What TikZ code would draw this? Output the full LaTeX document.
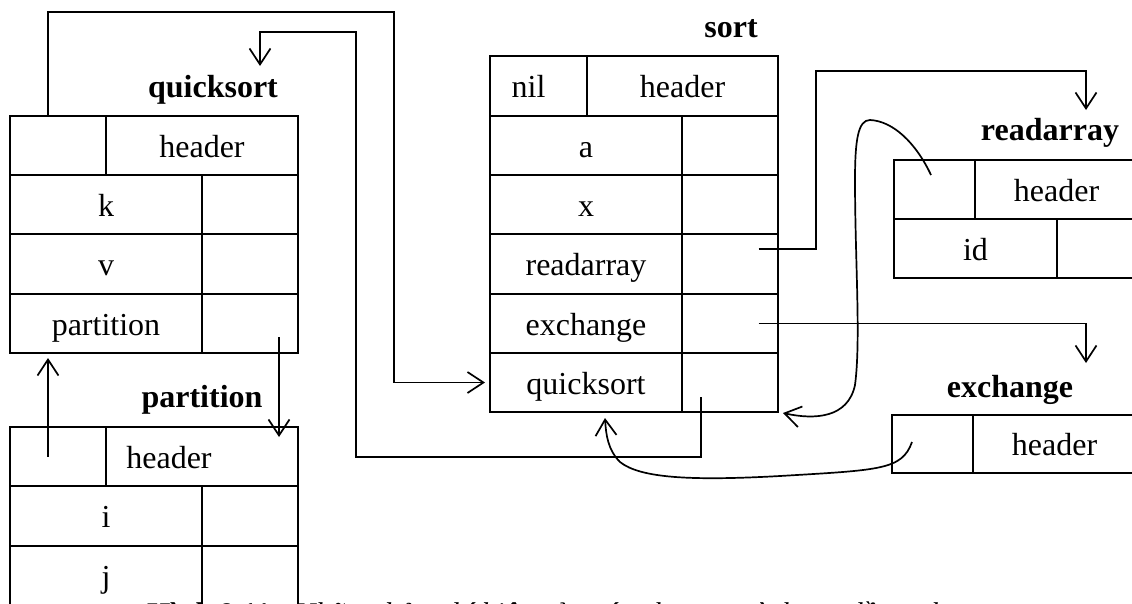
\documentclass[tikz,border=0pt]{standalone}
\usepackage{fontspec}
\setmainfont{Liberation Serif}
\usetikzlibrary{arrows.meta,calc}

% one table cell: name, x1, y1, x2, y2, text
\newcommand\mkcell[6]{%
  \node[cellbox, minimum width={(#4)-(#2)}, minimum height={(#5)-(#3)}]
    (#1) at ({((#2)+(#4))/2},{((#3)+(#5))/2}) {#6};}

\begin{document}
\begin{tikzpicture}[x=1pt,y=-1pt,
  cellbox/.style={draw, line width=1.7pt, inner sep=0pt, outer sep=0pt,
    font=\fontsize{32}{38}\selectfont, text height=23pt, text depth=0pt},
  tname/.style={anchor=base, inner sep=0pt, font=\fontsize{32}{38}\selectfont\bfseries},
  conn/.style={line width=1.7pt},
  arr/.style={conn, -{Straight Barb[length=16pt,width=21pt]}}]

\fill[white] (0,0) rectangle (1132,603);
\useasboundingbox (0,0) rectangle (1132,603);
\clip (0,0) rectangle (1132,603);

% ---- quicksort ----
\mkcell{qH1}{10}{116}{106}{175}{}
\mkcell{qH2}{106}{116}{298}{175}{header}
\mkcell{qK}{10}{175}{202}{234}{k}
\mkcell{qKv}{202}{175}{298}{234}{}
\mkcell{qV}{10}{234}{202}{294}{v}
\mkcell{qVv}{202}{234}{298}{294}{}
\mkcell{qP}{10}{294}{202}{353}{partition}
\mkcell{qPv}{202}{294}{298}{353}{}
\node[tname] (lQuick) at (213,97) {quicksort};

% ---- partition ----
\mkcell{pH1}{10}{427}{106}{486}{}
\mkcell{pH2}{106}{427}{298}{486}{header\hspace*{66pt}}
\mkcell{pI}{10}{486}{202}{546}{i}
\mkcell{pIv}{202}{486}{298}{546}{}
\mkcell{pJ}{10}{546}{202}{606}{j}
\mkcell{pJv}{202}{546}{298}{606}{}
\node[tname] (lPart) at (202,407) {partition};

% ---- sort ----
\mkcell{sH1}{490}{56}{587}{116}{nil\hspace*{20pt}}
\mkcell{sH2}{587}{56}{778}{116}{header}
\mkcell{sA}{490}{116}{682}{175}{a}
\mkcell{sAv}{682}{116}{778}{175}{}
\mkcell{sX}{490}{175}{682}{234}{x}
\mkcell{sXv}{682}{175}{778}{234}{}
\mkcell{sR}{490}{234}{682}{294}{readarray}
\mkcell{sRv}{682}{234}{778}{294}{}
\mkcell{sE}{490}{294}{682}{353}{exchange}
\mkcell{sEv}{682}{294}{778}{353}{}
\mkcell{sQ}{490}{353}{682}{412}{quicksort}
\mkcell{sQv}{682}{353}{778}{412}{}
\node[tname] (lSort) at (731,37) {sort};

% ---- readarray ----
\mkcell{rH1}{894}{160}{975}{219}{}
\mkcell{rH2}{975}{160}{1138}{219}{header}
\mkcell{rI}{894}{219}{1057}{278}{id}
\mkcell{rIv}{1057}{219}{1138}{278}{}
\node[tname] (lRead) at (1050,140) {readarray};

% ---- exchange ----
\mkcell{eH1}{892}{415}{973}{473}{}
\mkcell{eH2}{973}{415}{1136}{473}{header}
\node[tname] (lExch) at (1010,397) {exchange};

% ---- turning points of the links ----
\coordinate (qsTop) at (394,12);
\coordinate (qsLow) at (356,457);
\coordinate (qsHigh) at (260,32);
\coordinate (qsTip) at (260,66);
\coordinate (raTurn) at (816,71);
\coordinate (raTip) at (1086,110);
\coordinate (exTip) at (1086,363);

% quicksort -> sort (access link)
\draw[arr] ([xshift=-10pt]qH1.north) |- (qsTop) |- ([xshift=-5pt]sQ.west);
% sort.quicksort -> quicksort table
\draw[arr] ([xshift=-29pt,yshift=-14.5pt]sQv.center) |- (qsLow) |- (qsHigh) -- (qsTip);
% sort.readarray -> readarray table
\draw[arr] ([xshift=28.5pt,yshift=15pt]sRv.center) -| (raTurn) -| (raTip);
% sort.exchange -> exchange table
\draw[arr] ([xshift=28.5pt]sEv.center) -| (exTip);
% quicksort.partition -> partition table
\draw[arr] ([xshift=29pt,yshift=-13.5pt]qPv.center) -- ([xshift=77pt,yshift=19.5pt]pH2.center);
% partition -> quicksort (access link)
\draw[arr] ([xshift=-10pt]pH1.center) -- ([xshift=-58pt,yshift=-5pt]qP.south);
% readarray -> sort (access link)
\draw[arr] ([xshift=-3.5pt,yshift=14.5pt]rH1.center)
   .. controls (916,143) and (893,121) .. (870,120)
   .. controls (858,120) and (855,140) .. (855,180)
   .. controls (855,260) and (861,340) .. (855,385)
   .. controls (848,418) and (815,420) .. ([xshift=5pt,yshift=-1pt]sQv.south east);
% exchange -> sort (access link)
\draw[arr] ([xshift=-20.5pt,yshift=2pt]eH1.center)
   .. controls (902,470) and (880,470) .. (780,476)
   .. controls (690,481) and (640,478) .. (620,462)
   .. controls (608,450) and (606,435) .. ([xshift=19pt,yshift=-6pt]sQ.south);

% caption, running off the lower edge
\node[anchor=base west, inner sep=0pt, font=\fontsize{30}{36}\selectfont] (cap) at (147,623)
  {\textbf{Hình 9.11} - \textit{Những bảng kí hiệu của các chương trình con lồng nhau}};
\end{tikzpicture}
\end{document}
